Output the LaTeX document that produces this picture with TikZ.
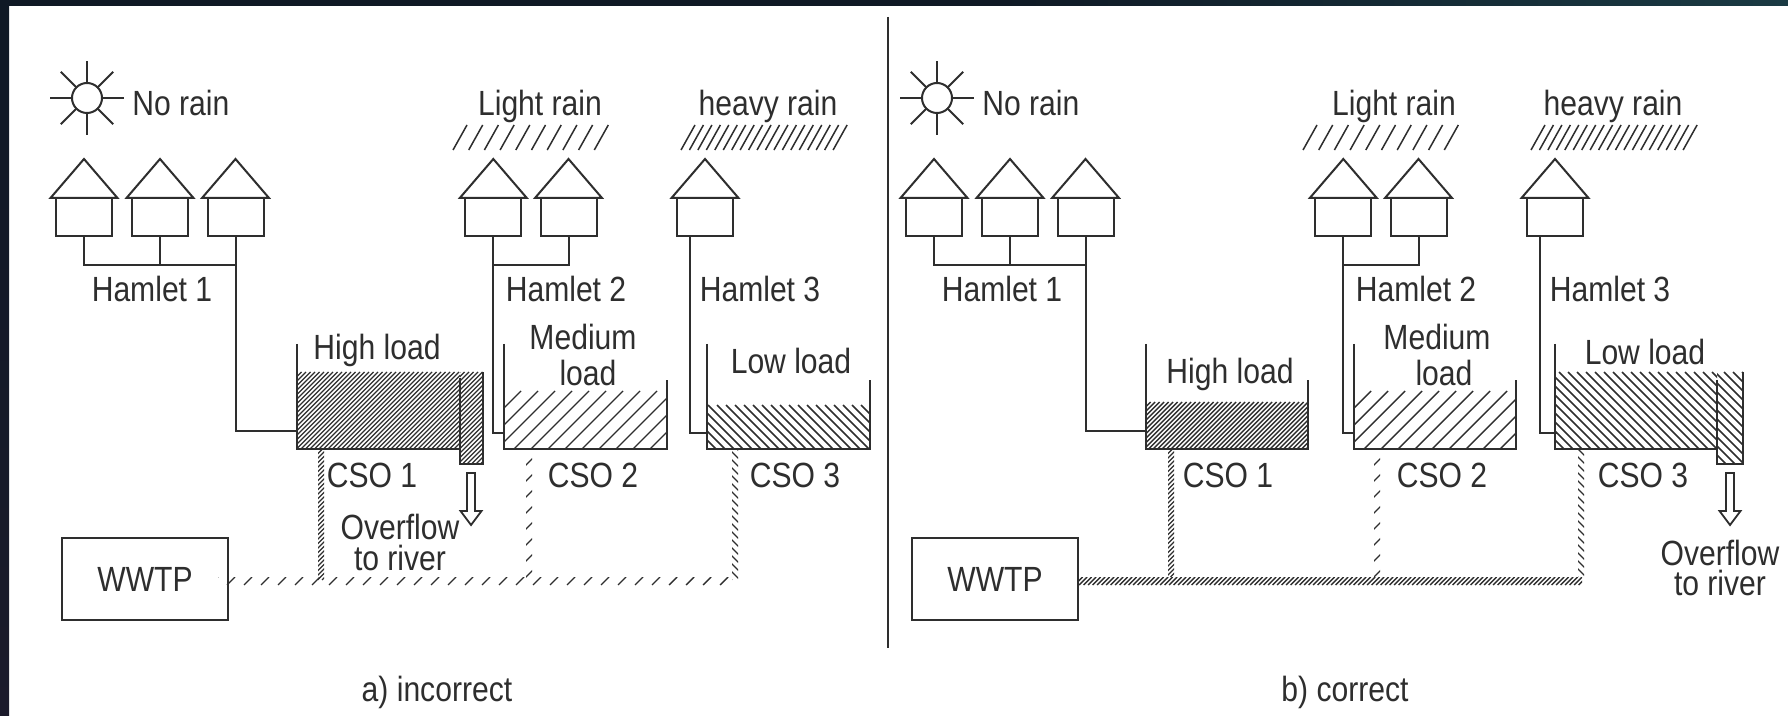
\documentclass[tikz,border=0pt]{standalone}
\usepackage{fontspec}
\setmainfont[FakeStretch=0.86]{Liberation Sans}
\definecolor{ink}{HTML}{2E2E2E}
\definecolor{darkbar}{HTML}{0F1925}
\definecolor{purplebar}{HTML}{1B1A2B}
\definecolor{tealbar}{HTML}{1A3A43}
\tikzset{
  outline/.style={draw=ink,line width=1pt,line join=miter},
  label/.style={text=ink,font=\fontsize{17.5}{17.5}\selectfont,inner sep=0pt,anchor=center},
  plantbox/.style={draw=ink,line width=1pt,minimum width=83pt,minimum height=41pt,inner sep=0pt,text=ink,font=\fontsize{17.5}{17.5}\selectfont},
}
% x1 y1 x2 y2 spacing direction(+1 slash,-1 backslash) linewidth(pt)
\newcommand{\hatchbox}[7]{%
  \begin{scope}
    \clip (#1,#2) rectangle (#3,#4);
    \pgfmathsetmacro{\hh}{#4-#2}
    \pgfmathtruncatemacro{\nn}{(#3-#1+\hh)/#5+1}
    \foreach \i in {0,...,\nn}{
      \ifnum#6>0
        \pgfmathsetmacro{\xa}{#1-\hh+\i*#5}
        \draw[draw=ink,line width=#7pt] (\xa,#4) -- (\xa+\hh,#2);
      \else
        \pgfmathsetmacro{\xa}{#1+\i*#5-\hh}
        \draw[draw=ink,line width=#7pt] (\xa,#2) -- (\xa+\hh,#4);
      \fi
    }
  \end{scope}}
\newcommand{\house}[1]{%
  \draw[outline] (#1-33.5,198) -- (#1,159) -- (#1+33.5,198) -- cycle;
  \draw[outline] (#1-28,198) rectangle (#1+28,236);}
\newcommand{\rain}[3]{% first x, count-1, spacing
  \foreach \i in {0,...,#2}{
    \pgfmathsetmacro{\xa}{#1+\i*#3}
    \draw[draw=ink,line width=0.75pt] (\xa,150) -- (\xa+14,125);
  }}
\newcommand{\hollowarrow}[1]{%
  \draw[draw=ink,line width=0.9pt,fill=white] (#1-4,473) -- (#1+4,473) -- (#1+4,511) -- (#1+10.5,511) -- (#1,525) -- (#1-10.5,511) -- (#1-4,511) -- cycle;}
% #1 x of Light rain text, #2 x of heavy rain text (inside the panel's frame)
\newcommand{\upper}[2]{%
  \draw[outline] (87,98) circle (15);
  \foreach \a in {0,45,...,315}{
    \draw[outline] (87,98) ++(\a:15) -- ++(\a:22);
  }
  \node[label,anchor=west] at (132,103) {No rain};
  \house{84}\house{160}\house{235.5}
  \draw[outline] (84,236) -- (84,265) -- (235.5,265);
  \draw[outline] (160,236) -- (160,265);
  \node[label] at (152,289) {Hamlet 1};
  \node[label] at (#1,106) {Light rain};
  \rain{453}{9}{15.7}
  \house{493.3}\house{568.5}
  \draw[outline] (568.5,236) -- (568.5,265) -- (493.3,265);
  \node[label] at (566,289) {Hamlet 2};
  \node[label] at (#2,106) {heavy rain};
  \rain{681}{18}{8.45}
  \house{705}
  \node[label] at (760,289) {Hamlet 3};
  \draw[outline] (235.5,236) -- (235.5,431) -- (297,431);
  \draw[outline] (493.3,236) -- (493.3,433) -- (504,433);
  \draw[outline] (690,236) -- (690,433) -- (707,433);
}
\begin{document}
\begin{tikzpicture}[x=0.5pt,y=-0.5pt]
\useasboundingbox (0,0) rectangle (1788,716);
\fill[white] (0,0) rectangle (1788,716);
\fill[darkbar] (0,0) rectangle (1000,6);
\shade[left color=darkbar,right color=tealbar] (1000,0) rectangle (1788,6);
\shade[top color=darkbar,bottom color=purplebar] (0,0) rectangle (9,716);
% divider
\draw[draw=ink,line width=1.1pt] (888,17) -- (888,648);
% ---------- panel a
\upper{540}{768}
\hatchbox{297}{372}{460}{449}{4.5}{1}{0.7}
\hatchbox{460}{372}{483}{464}{4.5}{1}{0.7}
\draw[outline] (297,344) -- (297,449) -- (460,449);
\draw[outline] (460,378) -- (460,464) -- (483,464) -- (483,372);
\node[label] at (377,350) {High load};
\hatchbox{504}{391}{667}{449}{17}{1}{0.7}
\draw[outline] (504,344) -- (504,449) -- (667,449) -- (667,380);
\node[label] at (583,337) {Medium};
\node[label] at (588,373) {load};
\hatchbox{707}{405}{870}{449}{9}{-1}{0.75}
\draw[outline] (707,344) -- (707,449) -- (870,449) -- (870,380);
\node[label] at (791,361) {Low load};
\node[label] at (372,475) {CSO 1};
\node[label] at (593,475) {CSO 2};
\node[label] at (795,475) {CSO 3};
\hollowarrow{471}
\node[label] at (400,527) {Overflow};
\node[label] at (400,558) {to river};
\node[plantbox] (wwtp) at (145,579) {WWTP};
\hatchbox{318}{449}{324}{580}{4.5}{1}{0.6}
\hatchbox{526}{449}{532}{580}{16}{1}{0.6}
\hatchbox{732}{449}{738}{580}{8}{-1}{0.6}
\hatchbox{218}{577}{736}{585}{17}{1}{0.7}
\node[label] at (437,692) {a) incorrect};
% ---------- panel b
\begin{scope}[shift={(425pt,0pt)}]
\upper{544}{763}
\end{scope}
\hatchbox{1146}{402}{1308}{449}{4.5}{1}{0.7}
\draw[outline] (1146,344) -- (1146,449) -- (1308,449) -- (1308,380);
\node[label] at (1230,374) {High load};
\hatchbox{1354}{391}{1516}{449}{17}{1}{0.7}
\draw[outline] (1354,344) -- (1354,449) -- (1516,449) -- (1516,380);
\node[label] at (1437,337) {Medium};
\node[label] at (1444,373) {load};
\hatchbox{1555}{372}{1717}{449}{9}{-1}{0.75}
\hatchbox{1717}{372}{1743}{464}{9}{-1}{0.75}
\draw[outline] (1555,344) -- (1555,449) -- (1717,449);
\draw[outline] (1717,380) -- (1717,464) -- (1743,464) -- (1743,372);
\node[label] at (1645,352) {Low load};
\node[label] at (1228,475) {CSO 1};
\node[label] at (1442,475) {CSO 2};
\node[label] at (1643,475) {CSO 3};
\hollowarrow{1730}
\node[label] at (1720,553) {Overflow};
\node[label] at (1720,583) {to river};
\node[plantbox] (wwtpb) at (995,579) {WWTP};
\hatchbox{1168}{449}{1174}{577}{4.5}{1}{0.6}
\hatchbox{1374}{449}{1380}{577}{16}{1}{0.6}
\hatchbox{1578}{449}{1584}{577}{8}{-1}{0.6}
\hatchbox{1078}{577}{1582}{585}{4.5}{1}{0.7}
\node[label] at (1345,692) {b) correct};
\end{tikzpicture}
\end{document}
